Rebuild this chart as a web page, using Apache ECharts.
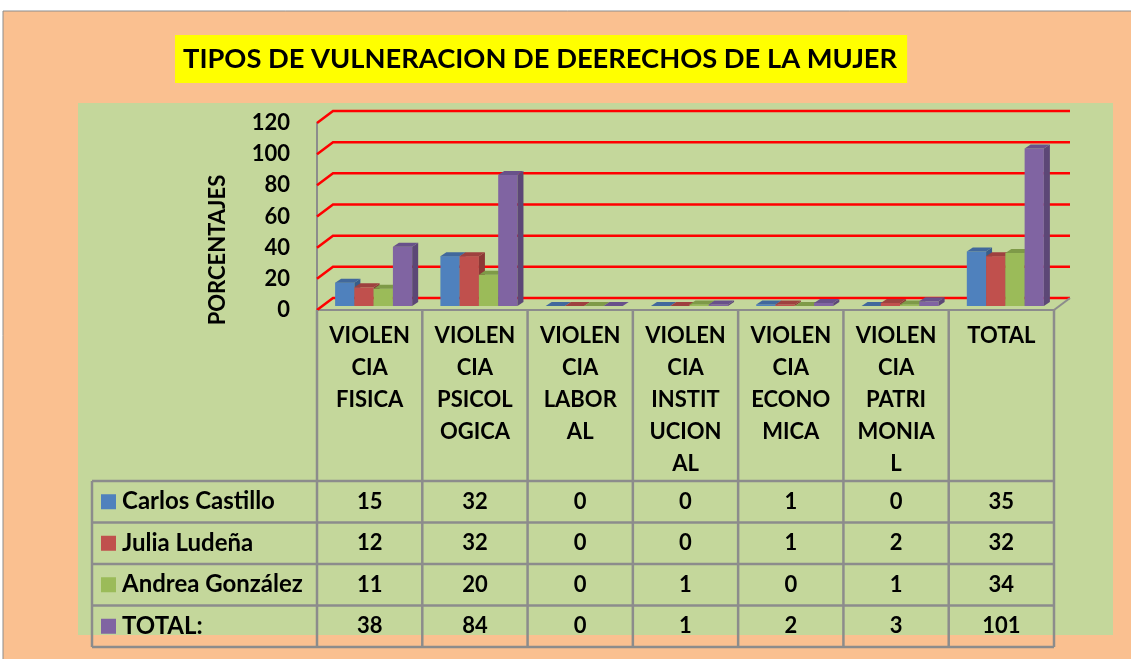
<!DOCTYPE html>
<html>
<head>
<meta charset="utf-8">
<script src="https://cdn.jsdelivr.net/npm/echarts@6/dist/echarts.min.js"></script>
<style>
html,body{margin:0;padding:0;background:#fff;}
#chart{width:1131px;height:659px;}
</style>
</head>
<body>
<div id="chart"></div>
<script>
// categories as wrapped in the original sheet
let categories = ['VIOLEN\nCIA\nFISICA', 'VIOLEN\nCIA\nPSICOL\nOGICA', 'VIOLEN\nCIA\nLABOR\nAL',
    'VIOLEN\nCIA\nINSTIT\nUCION\nAL', 'VIOLEN\nCIA\nECONO\nMICA', 'VIOLEN\nCIA\nPATRI\nMONIA\nL', 'TOTAL'];
let seriesNames = ['Carlos Castillo', 'Julia Ludeña', 'Andrea González', 'TOTAL:'];
let carlos = [15, 32, 0, 0, 1, 0, 35];
let julia = [12, 32, 0, 0, 1, 2, 32];
let andrea = [11, 20, 0, 1, 0, 1, 34];
let total = [38, 84, 0, 1, 2, 3, 101];
let yTicks = [0, 20, 40, 60, 80, 100, 120];

let colors = ['#4F81BD', '#C0504D', '#9BBB59', '#8064A2'];
let sideColors = ['#385D8A', '#8C3836', '#71893F', '#5C4776'];
let topColors = ['#41689C', '#9E413F', '#7E9A48', '#68518A'];
let font = 'Lato, "Open Sans", sans-serif';
let gridColor = '#8C8C8C';

let chart = echarts.init(document.getElementById('chart'));

let DEPTH_X = 16, DEPTH_Y = 12;  // back wall offset
let BAR_DX = 4, BAR_DY = 4;      // bars sit a bit behind the front plane
let SIDE_X = 6, SIDE_Y = 4;      // bar thickness

let barSeries = function (idx, values) {
    return {
        name: seriesNames[idx],
        type: 'custom',
        z: 5,
        data: values.map(function (v, i) { return [i, v]; }),
        renderItem: function (params, api) {
            let cat = api.value(0), v = api.value(1);
            let top = api.coord([cat, v]);
            let base = api.coord([cat, 0]);
            let band = api.size([1, 0])[0];
            let bw = band * 0.183;
            let x0 = base[0] - 2 * bw + idx * bw + BAR_DX;
            let x1 = x0 + bw;
            let yb = base[1] - BAR_DY, yt = top[1] - BAR_DY;
            return {
                type: 'group',
                children: [
                    {type: 'rect', shape: {x: x0, y: yt, width: bw, height: yb - yt}, style: {fill: colors[idx]}},
                    {type: 'polygon', shape: {points: [[x1, yt], [x1 + SIDE_X, yt - SIDE_Y], [x1 + SIDE_X, yb - SIDE_Y], [x1, yb]]}, style: {fill: sideColors[idx]}},
                    {type: 'polygon', shape: {points: [[x0, yt], [x0 + SIDE_X, yt - SIDE_Y], [x1 + SIDE_X, yt - SIDE_Y], [x1, yt]]}, style: {fill: topColors[idx]}}
                ]
            };
        }
    };
};

let wallSeries = {
    type: 'custom',
    z: 2,
    silent: true,
    data: yTicks.map(function (v) { return [0, v]; }),
    renderItem: function (params, api) {
        let cs = params.coordSys;
        let y = api.coord([0, api.value(1)])[1];
        let left = cs.x, right = cs.x + cs.width;
        let children = [{
            type: 'polyline',
            shape: {points: [[left, y], [left + DEPTH_X, y - DEPTH_Y], [right + DEPTH_X, y - DEPTH_Y]]},
            style: {stroke: '#FF0000', lineWidth: 2.5, fill: null}
        }];
        if (api.value(1) === 0) {
            children.push({
                type: 'line',
                shape: {x1: right, y1: y, x2: right + DEPTH_X, y2: y - DEPTH_Y},
                style: {stroke: gridColor, lineWidth: 2}
            });
        }
        return {type: 'group', children: children};
    }
};

let option = {
    animation: false,
    title: {
        text: 'TIPOS DE VULNERACION DE DEERECHOS DE LA MUJER',
        left: 175,
        top: 35,
        backgroundColor: '#FFFF00',
        padding: [11, 10, 10, 8],
        textStyle: {fontFamily: font, fontWeight: 'bold', fontSize: 27.3, color: '#000'}
    },
    grid: {left: 317, right: 77, top: 123, bottom: 349},
    xAxis: {
        type: 'category',
        data: categories,
        axisLine: {lineStyle: {color: gridColor, width: 2}},
        axisTick: {show: false},
        axisLabel: {
            interval: 0, margin: 10, color: '#000', fontFamily: font, fontWeight: 'bold',
            fontSize: 22, lineHeight: 32, verticalAlign: 'top'
        }
    },
    yAxis: {
        type: 'value',
        min: 0,
        max: 120,
        interval: 20,
        axisLine: {show: true, lineStyle: {color: gridColor, width: 2}},
        axisTick: {show: false},
        splitLine: {show: false},
        axisLabel: {margin: 27, color: '#000', fontFamily: font, fontWeight: 'bold', fontSize: 22}
    },
    series: [wallSeries, barSeries(0, carlos), barSeries(1, julia), barSeries(2, andrea), barSeries(3, total)]
};
chart.setOption(option);

// background, axis name and data table
let buildGraphics = function () {
    let els = [];
    els.push({type: 'rect', z: -10, shape: {x: 3, y: 11, width: 1140, height: 660}, style: {fill: '#FAC090', stroke: '#8C8C8C', lineWidth: 1}});
    els.push({type: 'rect', z: -9, shape: {x: 78, y: 103, width: 1035, height: 532}, style: {fill: '#C4D79B'}});
    els.push({
        type: 'text', x: 218, y: 250, rotation: Math.PI / 2, z: 10,
        style: {text: 'PORCENTAJES', font: 'bold 22px ' + font, fill: '#000', align: 'center', verticalAlign: 'middle'}
    });

    let centers = categories.map(function (c, i) { return chart.convertToPixel({xAxisIndex: 0}, i); });
    let colW = centers[1] - centers[0];
    let axisY = chart.convertToPixel({yAxisIndex: 0}, 0);
    let leftX = centers[0] - colW / 2;
    let rightX = centers[centers.length - 1] + colW / 2;
    let tableLeft = 92, tableTop = 481, rowH = 41.5;
    let rows = [carlos, julia, andrea, total];
    let bottom = tableTop + rows.length * rowH;
    let line = {stroke: gridColor, lineWidth: 2.5};

    for (let k = 0; k <= categories.length; k++) {
        let x = leftX + k * colW;
        els.push({type: 'line', z: 10, shape: {x1: x, y1: axisY, x2: x, y2: bottom}, style: line});
    }
    for (let r = 0; r <= rows.length; r++) {
        let y = tableTop + r * rowH;
        els.push({type: 'line', z: 10, shape: {x1: tableLeft, y1: y, x2: rightX, y2: y}, style: line});
    }
    els.push({type: 'line', z: 10, shape: {x1: tableLeft, y1: tableTop, x2: tableLeft, y2: bottom}, style: line});

    rows.forEach(function (vals, r) {
        let cy = tableTop + r * rowH + rowH / 2;
        els.push({type: 'rect', z: 10, shape: {x: 101, y: cy - 7.5, width: 15, height: 15}, style: {fill: colors[r]}});
        els.push({type: 'text', z: 10, x: 122, y: cy, style: {text: seriesNames[r], font: 'bold 24px ' + font, fill: '#000', verticalAlign: 'middle'}});
        vals.forEach(function (v, i) {
            els.push({type: 'text', z: 10, x: centers[i], y: cy, style: {text: String(v), font: 'bold 22px ' + font, fill: '#000', align: 'center', verticalAlign: 'middle'}});
        });
    });
    return els;
};
chart.setOption({graphic: buildGraphics()});
</script>
</body>
</html>
